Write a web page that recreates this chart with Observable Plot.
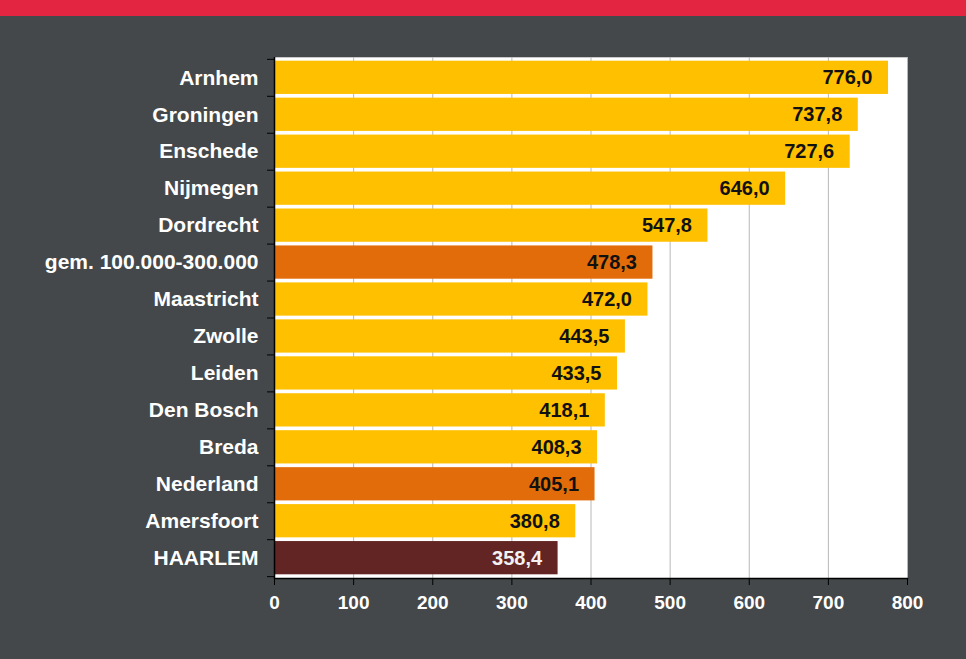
<!DOCTYPE html>
<html>
<head>
<meta charset="utf-8">
<script src="https://cdn.jsdelivr.net/npm/d3@7"></script>
<script src="https://cdn.jsdelivr.net/npm/@observablehq/plot@0.6"></script>
<style>
  html, body { margin: 0; padding: 0; background: #44484a; width: 966px; height: 659px; overflow: hidden; }
  #banner { height: 16px; background: #e42541; }
  #chart svg { display: block; }
</style>
</head>
<body>
<div id="banner"></div>
<div id="chart"></div>
<script>
const categories = ["Arnhem", "Groningen", "Enschede", "Nijmegen", "Dordrecht", "gem. 100.000-300.000", "Maastricht", "Zwolle", "Leiden", "Den Bosch", "Breda", "Nederland", "Amersfoort", "HAARLEM"];
const values = [776.0, 737.8, 727.6, 646.0, 547.8, 478.3, 472.0, 443.5, 433.5, 418.1, 408.3, 405.1, 380.8, 358.4];
const kinds = ["city", "city", "city", "city", "city", "avg", "city", "city", "city", "city", "city", "nl", "city", "haarlem"];
const xTicks = [0, 100, 200, 300, 400, 500, 600, 700, 800];

const barColor = {city: "#ffc000", avg: "#e36c0a", nl: "#e36c0a", haarlem: "#632523"};
const labelColor = {city: "#111", avg: "#111", nl: "#111", haarlem: "#f2f2f2"};

const data = categories.map((c, i) => ({name: c, value: values[i], kind: kinds[i]}));
const fmt = v => d3.format(".1f")(v).replace(".", ",");

const height = 643, mt = 41, mb = 81;
const pad = 0.1;
const step = (height - mt - mb) / (categories.length - pad + 2 * pad);
const font = "'Liberation Sans', Arial, sans-serif";

const chart = Plot.plot({
  width: 966,
  height,
  marginTop: mt,
  marginBottom: mb,
  marginLeft: 274,
  marginRight: 59,
  style: {background: "transparent", fontFamily: font, fontWeight: "bold"},
  x: {domain: [0, 800], ticks: xTicks},
  y: {domain: categories, padding: pad, round: false},
  marks: [
    Plot.frame({fill: "white", stroke: "#c8c8c8"}),
    Plot.gridX(xTicks, {stroke: "#b8b8b8", strokeOpacity: 1}),
    Plot.barX(data, {x: "value", y: "name", fill: d => barColor[d.kind]}),
    Plot.text(data, {x: "value", y: "name", text: d => fmt(d.value), textAnchor: "end", dx: -16, fill: d => labelColor[d.kind], fontSize: 20, fontWeight: "bold"}),
    Plot.ruleX([0], {stroke: "black", strokeWidth: 1.5}),
    Plot.frame({anchor: "bottom", stroke: "black", strokeWidth: 1.5}),
    Plot.axisX({ticks: xTicks, tickSize: 7, stroke: "black", fill: "white", fontSize: 19, fontWeight: "bold", tickPadding: 10, label: null}),
    Plot.axisY({tickSize: 0, tickPadding: 16, fill: "white", fontSize: 21, fontWeight: "bold", label: null}),
    Plot.axisY({tickSize: 7, stroke: "black", tickFormat: () => "", dy: step / 2, label: null}),
    Plot.axisY({ticks: [categories[0]], tickSize: 7, stroke: "black", tickFormat: () => "", dy: -step / 2, label: null})
  ]
});
document.getElementById("chart").appendChild(chart);
</script>
</body>
</html>
